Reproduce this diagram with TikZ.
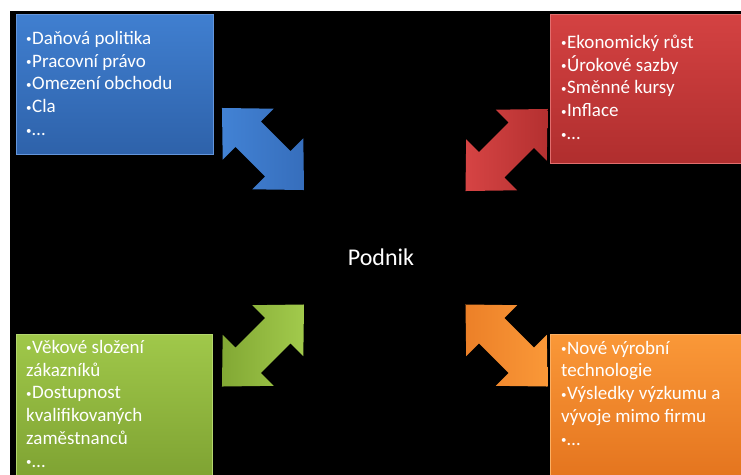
\documentclass[tikz,border=0pt]{standalone}
\usepackage{fontspec}
\setmainfont{Carlito}

% panel colours
\definecolor{bluetop}{RGB}{64,127,208}
\definecolor{bluebot}{RGB}{46,98,170}
\definecolor{blueedge}{RGB}{100,150,220}
\definecolor{redtop}{RGB}{212,66,66}
\definecolor{redbot}{RGB}{176,46,46}
\definecolor{rededge}{RGB}{226,110,110}
\definecolor{greentop}{RGB}{160,200,74}
\definecolor{greenbot}{RGB}{126,162,50}
\definecolor{greenedge}{RGB}{180,214,110}
\definecolor{orangetop}{RGB}{250,152,56}
\definecolor{orangebot}{RGB}{228,116,30}
\definecolor{orangeedge}{RGB}{252,176,100}

\newcommand\bul{\makebox[6pt][l]{\raisebox{1.4pt}{\fontsize{11}{11}\selectfont •}}}

\tikzset{
  panel/.style={rectangle, anchor=north west, inner sep=0pt, outer sep=0pt,
    line width=0.8pt},
  % anchored at the baseline of the last line
  listtext/.style={anchor=base west, align=left, inner sep=0pt, text=white,
    font=\fontsize{19}{22.8}\selectfont},
  dblarrow/.pic={
    \shade[pic actions]
      (-58,0) -- (-21,36) -- (-21,18) -- (21,18) -- (21,36) -- (58,0)
      -- (21,-36) -- (21,-18) -- (-21,-18) -- (-21,-36) -- cycle;
  }
}

\begin{document}
\begin{tikzpicture}[x=1pt,y=1pt]
  \useasboundingbox (0,0) rectangle (741,-474);
  \clip (0,0) rectangle (741,-474);
  \fill[white] (0,0) rectangle (741,-474);
  \fill[black] (10,-11) rectangle (745,-480);

  % four panels
  \node[panel, top color=bluetop, bottom color=bluebot, draw=blueedge,
        minimum width=197pt, minimum height=140pt] (pol) at (16,-14) {};
  \node[panel, top color=redtop, bottom color=redbot, draw=rededge,
        minimum width=200pt, minimum height=149pt] (eko) at (550,-14) {};
  \node[panel, top color=greentop, bottom color=greenbot, draw=greenedge,
        minimum width=196pt, minimum height=146pt] (soc) at (16,-334) {};
  \node[panel, top color=orangetop, bottom color=orangebot, draw=orangeedge,
        minimum width=200pt, minimum height=146pt] (tech) at (550,-334) {};

  % panel texts
  \node[listtext] (poltext) at (26,-135.5)
    {\bul Daňová politika\\\bul Pracovní právo\\\bul Omezení obchodu\\\bul Cla\\\bul …};
  \node[listtext] (ekotext) at (561,-139.5)
    {\bul Ekonomický růst\\\bul Úrokové sazby\\\bul Směnné kursy\\\bul Inflace\\\bul …};
  \node[listtext] (soctext) at (26,-467.3)
    {\bul Věkové složení\\zákazníků\\\bul Dostupnost\\kvalifikovaných\\zaměstnanců\\\bul …};
  \node[listtext] (techtext) at (561,-445.2)
    {\bul Nové výrobní\\technologie\\\bul Výsledky výzkumu a\\vývoje mimo firmu\\\bul …};

  % centre
  \node[text=white, font=\fontsize{24}{28}\selectfont] (podnik) at (381,-257) {Podnik};

  % two-way arrows between panels and centre
  \pic[left color={rgb,255:red,66;green,130;blue,212}, right color={rgb,255:red,54;green,110;blue,188}, rotate=-45] at (263,-149) {dblarrow};
  \pic[left color={rgb,255:red,214;green,68;blue,68}, right color={rgb,255:red,180;green,48;blue,48}, rotate=45] at (506.5,-150) {dblarrow};
  \pic[left color={rgb,255:red,130;green,168;blue,52}, right color={rgb,255:red,162;green,202;blue,76}, rotate=45] at (263,-345.5) {dblarrow};
  \pic[left color={rgb,255:red,236;green,128;blue,40}, right color={rgb,255:red,250;green,152;blue,56}, rotate=-45] at (506.5,-345.5) {dblarrow};
\end{tikzpicture}
\end{document}
